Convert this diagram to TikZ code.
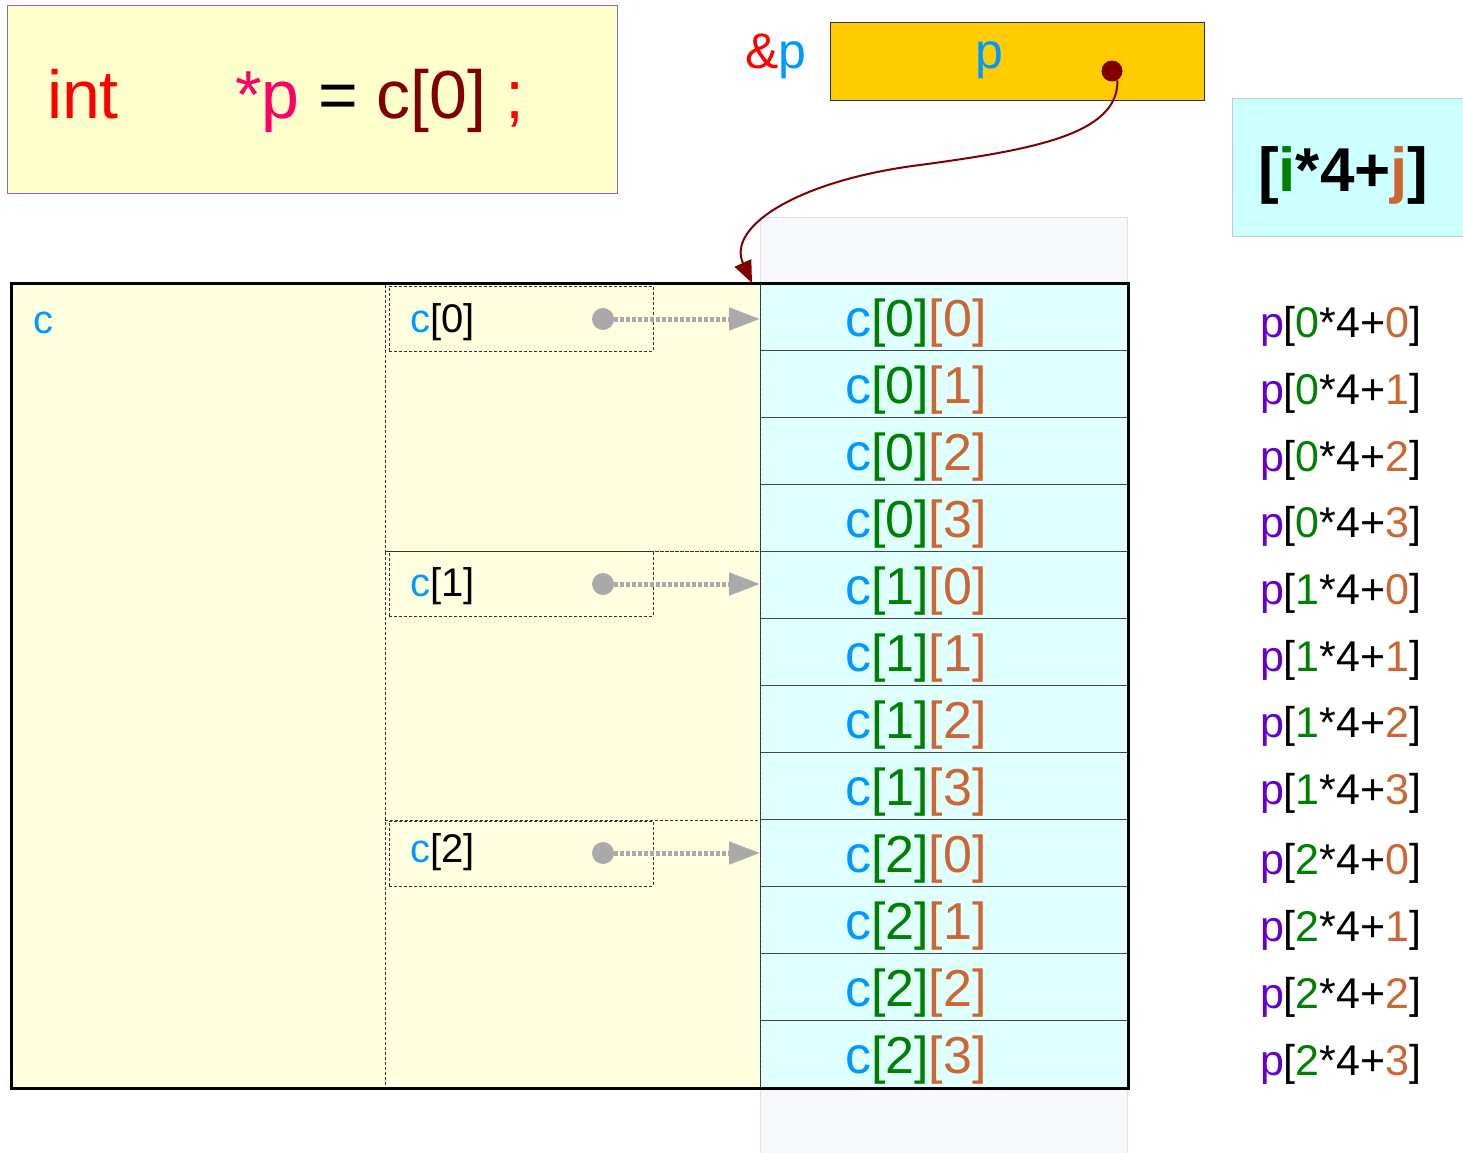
\documentclass[tikz,border=0pt]{standalone}
\usepackage{fontspec}
\setmainfont{Liberation Sans}
\usetikzlibrary{arrows.meta,calc}
\definecolor{topfill}{HTML}{FFFFCC}
\definecolor{topline}{HTML}{A860A8}
\definecolor{pinkc}{HTML}{FF0066}
\definecolor{darkred}{HTML}{800000}
\definecolor{cblue}{HTML}{0099FF}
\definecolor{cgreen}{HTML}{008000}
\definecolor{corange}{HTML}{CC6633}
\definecolor{cpurple}{HTML}{6600CC}
\definecolor{pfill}{HTML}{FFCC00}
\definecolor{idxfill}{HTML}{CCFFFF}
\definecolor{idxline}{HTML}{C8C8C8}
\definecolor{backfill}{HTML}{F7F8FC}
\definecolor{backline}{HTML}{E0E0E4}
\definecolor{leftfill}{HTML}{FFFFE0}
\definecolor{cellfill}{HTML}{E0FFFF}
\definecolor{cellline}{HTML}{444444}
\definecolor{dashc}{HTML}{333333}
\definecolor{ptrgray}{HTML}{AAAAAA}
\newcommand\fsz[1]{\fontsize{#1}{#1}\selectfont}
\begin{document}
\begin{tikzpicture}[x=1pt,y=-1pt,
  rect/.style={inner sep=0pt, outer sep=0pt, anchor=north west},
  lbl/.style={inner sep=0pt, outer sep=0pt, anchor=base west},
  cellbox/.style={rect, draw=cellline, fill=cellfill, line width=1pt, minimum width=367pt, minimum height=67.083pt},
  grpbox/.style={rect, draw=dashc, line width=0.8pt, dash pattern=on 3pt off 2pt, minimum width=375pt},
  ptrbox/.style={rect, draw=dashc, line width=0.8pt, dash pattern=on 3pt off 2pt, minimum width=264pt, minimum height=65pt},
  gdot/.style={circle, fill=ptrgray, inner sep=0pt, outer sep=0pt, minimum size=22pt},
  garrow/.style={draw=ptrgray, line width=5pt, dash pattern=on 4pt off 2pt, -{Triangle[length=31pt,width=22pt]}},
  parrow/.style={draw=darkred, line width=2pt, -{Triangle[length=22pt,width=18pt]}}
]
\useasboundingbox (0,0) rectangle (1463,1152);
% backdrop column
\node[rect, fill=backfill, draw=backline, line width=1pt, minimum width=367pt, minimum height=945pt] (back) at (760,217) {};
% left yellow area
\node[rect, fill=leftfill, minimum width=749pt, minimum height=805pt] (left) at (11,283) {};
% cells
\foreach \i in {0,1,2}{
  \foreach \j in {0,1,2,3}{
    \pgfmathtruncatemacro\k{\i*4+\j}
    \pgfmathsetmacro\top{283+\k*67.083}
    \node[cellbox] (c\i\j) at (760,\top) {};
    \node[lbl] (t\i\j) at (845,\top+53) {\fsz{52}\textcolor{cblue}{c}\textcolor{cgreen}{[\i]}\textcolor{corange}{[\j]}};
  }
}
% group boxes
\node[grpbox, minimum height=268pt] (grp0) at (385,283) {};
\node[grpbox, minimum height=269pt] (grp1) at (385,551) {};
\node[grpbox, minimum height=268pt] (grp2) at (385,820) {};
% pointer boxes
\node[ptrbox] (pb0) at (389,286) {};
\node[ptrbox] (pb1) at (389,551) {};
\node[ptrbox] (pb2) at (389,821) {};
\node[lbl] (lc0) at (410,332) {\fsz{40}\textcolor{cblue}{c}[0]};
\node[lbl] (lc1) at (410,596) {\fsz{40}\textcolor{cblue}{c}[1]};
\node[lbl] (lc2) at (410,862) {\fsz{40}\textcolor{cblue}{c}[2]};
\node[lbl] (lc) at (33,333) {\fsz{40}\textcolor{cblue}{c}};
% gray pointer dots and arrows
\node[gdot] (g0) at (603,319) {};
\node[gdot] (g1) at (603,584) {};
\node[gdot] (g2) at (603,853) {};
\draw[garrow] (g0.east) -- (g0.east -| c00.west);
\draw[garrow] (g1.east) -- (g1.east -| c10.west);
\draw[garrow] (g2.east) -- (g2.east -| c20.west);
% frame
\node[rect, draw=black, line width=3pt, minimum width=1117pt, minimum height=805pt] (frame) at (11,283) {};
% p[i*4+j] labels
\foreach \b [count=\n from 0] in {337,404,471,537,604,671,737,804,874,941,1008,1075}{
  \pgfmathtruncatemacro\ii{floor(\n/4)}
  \pgfmathtruncatemacro\jj{mod(\n,4)}
  \node[lbl] (pl\n) at (1260,\b) {\fsz{43}\textcolor{cpurple}{p}[\textcolor{cgreen}{\ii}*4+\textcolor{corange}{\jj}]};
}
% declaration box
\node[rect, fill=topfill, draw=topline, line width=1pt, minimum width=610pt, minimum height=188pt] (decl) at (7,5) {};
\node[lbl, text=red] (kwint) at (47,118) {\fsz{68}int};
\node[lbl] (stmt) at (235,118) {\fsz{68}\textcolor{pinkc}{*p} = \textcolor{darkred}{c[0]} \textcolor{red}{;}};
% index formula box
\node[rect, fill=idxfill, draw=idxline, line width=1pt, minimum width=245pt, minimum height=138pt] (idx) at (1232,98) {};
\node[lbl] (idxt) at (1258,191) {\fsz{62}\bfseries [\textcolor{cgreen}{i}*4+\textcolor{corange}{j}]};
% pointer p
\node[lbl] (amp) at (745,68) {\fsz{50}\textcolor{red}{\&}\textcolor{cblue}{p}};
\node[rect, fill=pfill, draw=dashc, line width=1pt, minimum width=374pt, minimum height=78pt] (pbox) at (830,22) {};
\node[inner sep=0pt, anchor=base] (pname) at (989,68) {\fsz{50}\textcolor{cblue}{p}};
\node[circle, fill=darkred, inner sep=0pt, minimum size=21pt] (pdot) at (1112,71) {};
\draw[parrow] (pdot.-60) .. controls (1119,135) and (1030,150) .. (920,165)
  .. controls (800,180) and (726,226) .. ($(c00.north west)+(-8,0)$);
\end{tikzpicture}
\end{document}
